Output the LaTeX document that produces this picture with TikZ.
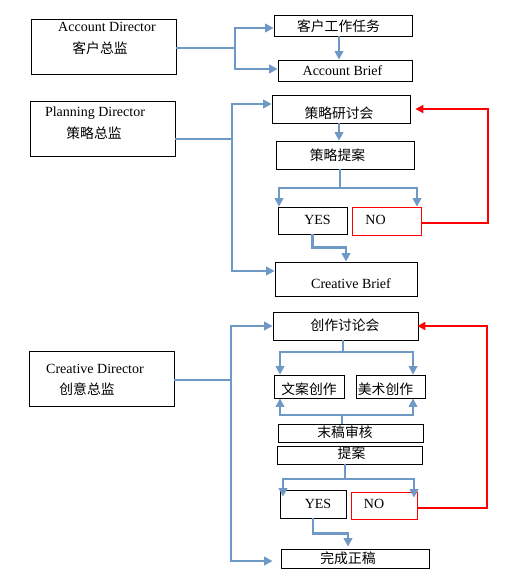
\documentclass[tikz,border=0pt]{standalone}
\usepackage{fontspec}
\setmainfont{Liberation Serif}
\newfontfamily\cjk{Noto Sans CJK SC}
\usetikzlibrary{arrows.meta}
\definecolor{lineblue}{RGB}{110,152,198}
\definecolor{noRed}{RGB}{255,0,0}
\tikzset{
  box/.style={draw=black, line width=0.8pt, inner sep=0pt, fill=none},
  redbox/.style={draw=noRed, line width=0.8pt, inner sep=0pt},
  lat/.style={font=\fontsize{14}{15}\selectfont, inner sep=0pt},
  zh/.style={font=\cjk\fontsize{13.8}{15}\selectfont, inner sep=0pt},
  conn/.style={draw=lineblue, line width=2.2pt, -{Triangle[length=8.5pt,width=8.5pt]}},
  plain/.style={draw=lineblue, line width=2.2pt},
  back/.style={draw=noRed, line width=2pt, -{Triangle[length=8pt,width=8pt]}},
}
\begin{document}
\begin{tikzpicture}[x=1pt,y=-1pt]
\useasboundingbox[fill=white] (0,0) rectangle (525,585);
% boxes
\node[box, minimum width=145, minimum height=55] (ad) at (103.5,46.5) {};
\node[box, minimum width=138, minimum height=21] (task) at (343,25.5) {};
\node[box, minimum width=134, minimum height=21] (abrief) at (345,70.5) {};
\node[box, minimum width=145, minimum height=55] (pd) at (102.5,128.5) {};
\node[box, minimum width=138, minimum height=28] (sm) at (341,109) {};
\node[box, minimum width=138, minimum height=28] (sp) at (345,155) {};
\node[box, minimum width=69, minimum height=27] (yes1) at (312.5,220.5) {};
\node[redbox, minimum width=69, minimum height=28] (no1) at (386.5,221) {};
\node[box, minimum width=142, minimum height=34] (cb) at (346,279) {};
\node[box, minimum width=145, minimum height=55] (cd) at (101.5,378.5) {};
\node[box, minimum width=145, minimum height=28] (cm) at (345.5,326) {};
\node[box, minimum width=70, minimum height=23] (wa) at (309,386.5) {};
\node[box, minimum width=69, minimum height=23] (ms) at (390.5,386.5) {};
\node[box, minimum width=145, minimum height=18] (mg) at (350.5,433) {};
\node[box, minimum width=145, minimum height=18] (ta) at (349.5,455) {};
\node[box, minimum width=66, minimum height=28] (yes2) at (313,504) {};
\node[redbox, minimum width=66, minimum height=27] (no2) at (384,505.5) {};
\node[box, minimum width=148, minimum height=19] (wc) at (355,558.5) {};
% texts
\node[lat] (t1) at (107,27) {Account Director};
\node[zh] (t2) at (100,48.5) {客户总监};
\node[zh] (t3) at (338.5,26) {客户工作任务};
\node[lat] (t4) at (342.5,70.5) {Account Brief};
\node[lat] (t5) at (95,113) {Planning Director};
\node[zh] (t6) at (94,133.5) {策略总监};
\node[zh] (t7) at (339,113) {策略研讨会};
\node[zh] (t8) at (337.5,155) {策略提案};
\node[lat] (t9) at (317.5,219.5) {YES};
\node[lat] (t10) at (375.5,219.5) {NO};
\node[lat] (t11) at (351,283.5) {Creative Brief};
\node[lat] (t12) at (95,368.5) {Creative Director};
\node[zh] (t13) at (87,389) {创意总监};
\node[zh] (t14) at (345,325) {创作讨论会};
\node[zh] (t15) at (309,389) {文案创作};
\node[zh] (t16) at (385.5,389) {美术创作};
\node[zh] (t17) at (345,432) {末稿审核};
\node[zh] (t18) at (351.5,453) {提案};
\node[lat] (t19) at (318,503.5) {YES};
\node[lat] (t20) at (374,503.5) {NO};
\node[zh] (t21) at (348,558) {完成正稿};
% junctions
\coordinate (j1) at (235,48);
\coordinate (j2) at (232,139);
\coordinate (j3) at (231,380);
\coordinate (s1) at (340,188);
\coordinate (s2) at (343,352);
\coordinate (s3) at (342,415);
\coordinate (s4) at (345,479);
\coordinate (r1) at (488,223);
\coordinate (r2) at (487,508);
% account director
\draw[plain] ([yshift=-1.5pt]ad.east) -- (j1);
\draw[conn] (j1) |- ([yshift=-2.5pt]task.west);
\draw[conn] (j1) |- ([yshift=1.5pt]abrief.west);
\draw[conn] ([xshift=-4pt]task.south) -- ([xshift=-4pt]task.south |- abrief.north);
% planning director
\draw[plain] ([yshift=-10.5pt]pd.east) -- (j2);
\draw[conn] (j2) |- ([yshift=5pt]sm.west);
\draw[conn] (j2) |- ([yshift=8pt]cb.west);
\draw[conn] ([xshift=-2pt]sm.south) -- ([xshift=-2pt]sm.south |- sp.north);
\draw[plain] (sp.south -| s1) -- (s1);
\draw[conn] (s1) -| ([xshift=-33.5pt]yes1.north);
\draw[conn] (s1) -| ([xshift=30.5pt]no1.north);
\draw[conn] (yes1.south) -- ++(0,13) -| (cb.north);
\draw[back] ([yshift=-2pt]no1.east) -- (r1) |- ([xshift=5pt]sm.east);
% creative director
\draw[plain] ([yshift=-1.5pt]cd.east) -- (j3);
\draw[conn] (j3) |- (cm.west);
\draw[conn] (j3) |- ([xshift=-8pt,yshift=-2.5pt]wc.west);
\draw[plain] (cm.south -| s2) -- (s2);
\draw[conn] (s2) -| ([xshift=-29pt]wa.north);
\draw[conn] (s2) -| ([xshift=22.5pt]ms.north);
\draw[plain] (mg.north -| s3) -- (s3);
\draw[conn] (s3) -| ([xshift=-29pt]wa.south);
\draw[conn] (s3) -| ([xshift=22.5pt]ms.south);
\draw[plain] (ta.south -| s4) -- (s4);
\draw[conn] (s4) -| ([xshift=-30pt,yshift=-7pt]yes2.north);
\draw[conn] (s4) -| ([xshift=30pt,yshift=-6pt]no2.north);
\draw[conn] (yes2.south) -- ++(0,15) -| ([xshift=-7pt,yshift=2pt]wc.north);
\draw[back] ([yshift=-2.5pt]no2.east) -- (r2) |- ([xshift=-1pt]cm.east);
\end{tikzpicture}
\end{document}
